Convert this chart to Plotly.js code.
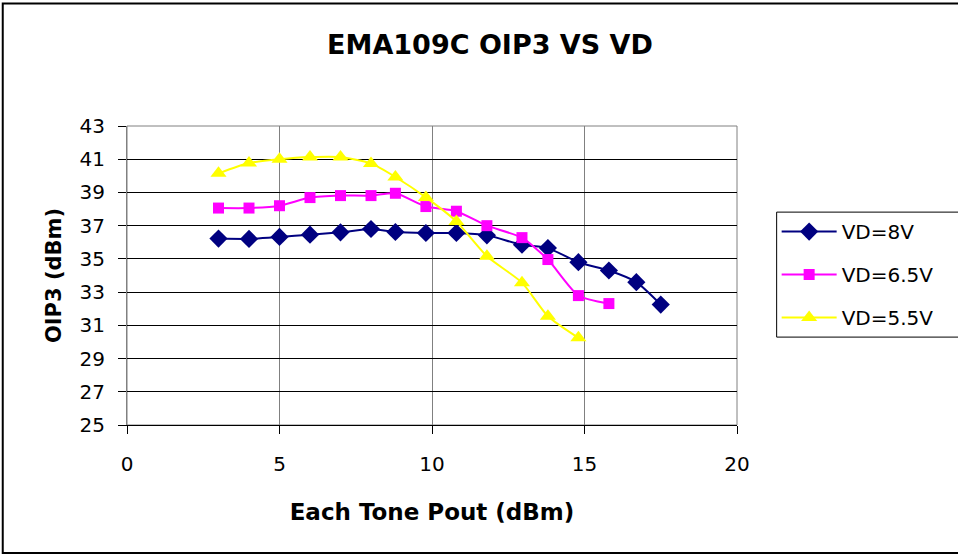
<!DOCTYPE html>
<html>
<head>
<meta charset="utf-8">
<script src="https://cdn.plot.ly/plotly-3.0.1.min.js"></script>
<style>html,body{margin:0;padding:0;background:#fff;}#chart{width:958px;height:556px;}</style>
</head>
<body>
<div id="chart"></div>
<script>
var seriesNames = ["VD=8V", "VD=6.5V", "VD=5.5V"];
var x8 = [3, 4, 5, 6, 7, 8, 8.8, 9.8, 10.8, 11.8, 12.95, 13.8, 14.8, 15.8, 16.7, 17.5];
var y8 = [36.22, 36.2, 36.32, 36.46, 36.6, 36.8, 36.62, 36.56, 36.56, 36.42, 35.85, 35.65, 34.8, 34.3, 33.6, 32.25];
var x65 = [3, 4, 5, 6, 7, 8, 8.8, 9.8, 10.8, 11.8, 12.95, 13.8, 14.8, 15.8];
var y65 = [38.06, 38.06, 38.2, 38.69, 38.81, 38.81, 38.95, 38.15, 37.87, 37.0, 36.28, 34.96, 32.79, 32.31];
var x55 = [3, 4, 5, 6, 7, 8, 8.8, 9.8, 10.8, 11.8, 12.95, 13.8, 14.8];
var y55 = [40.15, 40.77, 41.0, 41.13, 41.13, 40.75, 39.93, 38.7, 37.25, 35.16, 33.57, 31.55, 30.25];
var xTicks = [0, 5, 10, 15, 20];
var yTicks = [25, 27, 29, 31, 33, 35, 37, 39, 41, 43];

var F = "DejaVu Sans, sans-serif";
var traces = [
  {x: x8, y: y8, name: seriesNames[0], legendgroup: "a", mode: "lines+markers",
   line: {color: "#000080", width: 2, shape: "spline", smoothing: 0.6},
   marker: {symbol: "diamond", size: 14, color: "#000080"}},
  {x: x65, y: y65, name: seriesNames[1], legendgroup: "b", mode: "lines+markers",
   line: {color: "#FF00FF", width: 2, shape: "spline", smoothing: 0.6},
   marker: {symbol: "square", size: 11, color: "#FF00FF"}},
  {x: x55, y: y55, name: seriesNames[2], legendgroup: "c", mode: "lines+markers",
   line: {color: "#FFFF00", width: 2, shape: "spline", smoothing: 0.6},
   marker: {symbol: "triangle-up", size: 14, color: "#FFFF00"}}
];
var layout = {
  width: 958, height: 556,
  margin: {l: 127.3, r: 220.5, t: 125.7, b: 131, pad: 0},
  paper_bgcolor: "#fff", plot_bgcolor: "#fff",
  font: {family: F, color: "#000", size: 20},
  title: {text: "<b>EMA109C OIP3 VS VD</b>", font: {family: F, size: 27, color: "#000"},
          x: 0.5115, xref: "container", xanchor: "center", y: 0.919, yref: "container", yanchor: "middle"},
  xaxis: {range: [0, 20], tickvals: xTicks, ticktext: xTicks.map(String),
          showgrid: true, gridcolor: "#808080", gridwidth: 1, zeroline: false,
          showline: true, linecolor: "#000", linewidth: 1,
          ticks: "outside", ticklen: 8, tickcolor: "#000", ticklabelstandoff: 13,
          tickfont: {family: F, size: 20}, fixedrange: true,
          title: {text: "<b>Each Tone Pout (dBm)</b>", font: {family: F, size: 23}, standoff: 28}},
  yaxis: {range: [25, 43], tickvals: yTicks, ticktext: yTicks.map(String),
          showgrid: true, gridcolor: "#000", gridwidth: 1, zeroline: false,
          showline: true, linecolor: "#808080", linewidth: 1,
          ticks: "outside", ticklen: 8, tickcolor: "#000", ticklabelstandoff: 9,
          tickfont: {family: F, size: 20}, fixedrange: true,
          title: {text: "<b>OIP3 (dBm)</b>", font: {family: F, size: 21}, standoff: 12}},
  legend: {x: 1.065, xanchor: "left", y: 0.712, yanchor: "top",
           borderwidth: 0, bgcolor: "rgba(0,0,0,0)",
           font: {family: F, size: 20}, tracegroupgap: 14, itemwidth: 55},
  showlegend: true,
  shapes: [
    {type: "rect", xref: "paper", yref: "paper", x0: 0, x1: 1, y0: 0, y1: 1,
     line: {color: "#808080", width: 1}, layer: "between"},
    {type: "rect", xref: "paper", yref: "paper", x0: 1.065, x1: 1.45, y0: 0.294, y1: 0.712,
     line: {color: "#000", width: 1}, fillcolor: "rgba(0,0,0,0)", layer: "below"},
    {type: "rect", xref: "paper", yref: "paper", x0: -0.2037, x1: 1.45, y0: -0.4277, y1: 1.41,
     line: {color: "#000", width: 2}, layer: "below"}
  ]
};
Plotly.newPlot("chart", traces, layout, {displayModeBar: false, staticPlot: true});
</script>
</body>
</html>
